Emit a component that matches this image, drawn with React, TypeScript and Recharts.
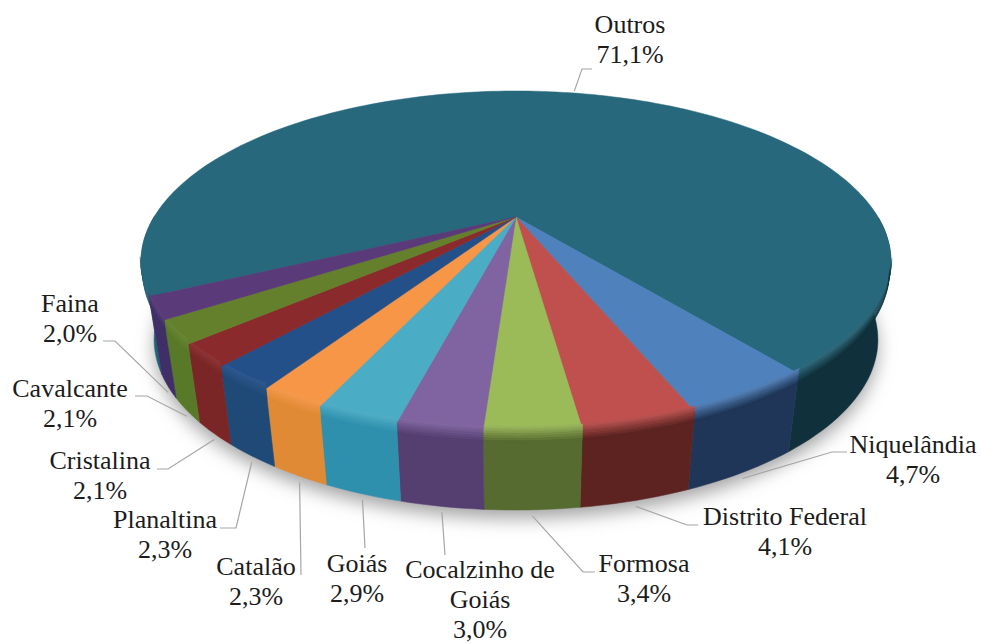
import React from 'react';
import { PieChart, Pie } from 'recharts';

const names = ['Outros', 'Niquelândia', 'Distrito Federal', 'Formosa', 'Cocalzinho de Goiás', 'Goiás', 'Catalão', 'Planaltina', 'Cristalina', 'Cavalcante', 'Faina'];
const shares = [71.1, 4.7, 4.1, 3.4, 3.0, 2.9, 2.3, 2.3, 2.1, 2.1, 2.0];
const topColors = ['#27687c', '#4f81bd', '#c0504d', '#9bbb59', '#8064a2', '#4bacc6', '#f79646', '#24508a', '#8a2a2c', '#64802c', '#5a3a78'];
const wallColors = ['#10303b', '#1f3658', '#5c2320', '#566b2f', '#553f71', '#2f90ad', '#e08a35', '#1f4a78', '#7a2526', '#587a28', '#3f2f66'];

// label layout, same order as names: text centre, first baseline, elbow of the leader, end of the leader at the text
const labelX = [630, 913, 785, 644, 480, 357, 256, 165, 100, 70, 70];
const labelY = [33, 453, 525, 572, 578, 572, 575, 528, 469, 397, 312];
const elbows = [[582, 69], [832, 452], [687, 525], [583, 572], null, null, null, [236, 528], [168, 469], [147, 396], [115, 341]];
const leaderEnds = [[592, 69], [847, 452], [698, 525], [595, 572], [445, 555], [365, 548], [301, 575], [220, 528], [157, 469], [135, 396], [103, 341]];
const nameLines: Record<string, string[]> = { 'Cocalzinho de Goiás': ['Cocalzinho de', 'Goiás'] };

const CX = 516;
const CY = 217;
const DEPTH = 78;
const chartData = names.map((name, i) => ({ name, value: shares[i] }));

// perspective view of the flat disc, angle in degrees as recharts gives it
const project = (cx: number, cy: number, deg: number, f = 0) => {
  // small correction so the front slices land where the 3D renderer put them
  const warped = deg + 1.3 * Math.cos((2 * (deg + 128) * Math.PI) / 180);
  const t = (warped * Math.PI) / 180;
  const u = Math.cos(t);
  const v = Math.sin(t);
  const den = 1 + 0.261 * v;
  const x = (362 * u) / den;
  const y = (-158.9 * v) / den;
  return { x: cx + x * (1 - 0.035 * f), y: cy + y + DEPTH * f };
};

const anglesBetween = (a0: number, a1: number) => {
  const n = Math.max(2, Math.ceil(Math.abs(a1 - a0) / 1.5));
  const list: number[] = [];
  for (let i = 0; i <= n; i++) list.push(a0 + ((a1 - a0) * i) / n);
  return list;
};

const toPath = (pts: { x: number; y: number }[]) => 'M' + pts.map((p) => `${p.x.toFixed(1)},${p.y.toFixed(1)}`).join('L') + 'Z';

const bandPath = (cx: number, cy: number, a0: number, a1: number, f0: number, f1: number) => {
  const angles = anglesBetween(a0, a1);
  const upper = angles.map((a) => project(cx, cy, a, f0));
  const lower = angles.slice().reverse().map((a) => project(cx, cy, a, f1));
  return toPath(upper.concat(lower));
};

const facePath = (cx: number, cy: number, a0: number, a1: number) =>
  toPath([{ x: cx, y: cy }, ...anglesBetween(a0, a1).map((a) => project(cx, cy, a))]);

const hexMix = (a: string, b: string, t: number) => {
  const ch = (h: string, i: number) => parseInt(h.slice(1 + i * 2, 3 + i * 2), 16);
  const out = [0, 1, 2].map((i) => Math.round(ch(a, i) * (1 - t) + ch(b, i) * t).toString(16).padStart(2, '0'));
  return '#' + out.join('');
};

// the big slice wraps round the back, so only its two ends face the viewer
const frontRanges = (start: number, end: number, past: number): [number, number][] => {
  if (start > 180 && end < 0) return [[start, 180 + past], [-past, end]];
  return [[start, end]];
};

const BEVEL = [-0.07, -0.04, -0.01, 0.02, 0.05, 0.08, 0.11, 0.14];

const SliceShape = (props: any) => {
  const { cx, cy, startAngle, endAngle, index } = props;
  const top = topColors[index];
  const wall = wallColors[index];
  return (
    <g>
      {index === 0 && (
        <path
          d={toPath(anglesBetween(0, 360).map((a) => project(cx, cy + 5, a, 1.04)))}
          fill="#8c8c8c"
          fillOpacity={0.8}
          filter="url(#soft)"
        />
      )}
      {frontRanges(startAngle, endAngle, 0).map(([a, b], i) => {
        const fill = index === 0 && a > 90 ? '#1f6478' : wall;
        return <path key={i} d={bandPath(cx, cy, a, b, 0, 1)} fill={fill} stroke={fill} strokeWidth={0.5} />;
      })}
      <path d={facePath(cx, cy, startAngle, endAngle)} fill={top} stroke={top} strokeWidth={0.5} />
      {frontRanges(startAngle, endAngle, 15).map(([a, b], i) => {
        const base = index === 0 && a > 90 ? '#1f6478' : wall;
        return BEVEL.slice(0, -1).map((f, k) => {
          const c = hexMix(hexMix(top, '#ffffff', 0.06), base, (k + 1) / (BEVEL.length - 1));
          return <path key={`${i}-${k}`} d={bandPath(cx, cy, a, b, f, BEVEL[k + 1])} fill={c} stroke={c} strokeWidth={0.4} />;
        });
      })}
    </g>
  );
};

const SliceLabel = (props: any) => {
  const { cx, cy, midAngle, index } = props;
  const onTop = index === 0;
  const rim = project(cx, cy, midAngle, onTop ? 0 : 1);
  const start = { x: rim.x, y: rim.y + (onTop ? -2 : 6) };
  const pts = [start, elbows[index] && { x: elbows[index]![0], y: elbows[index]![1] }, { x: leaderEnds[index][0], y: leaderEnds[index][1] }].filter(Boolean) as { x: number; y: number }[];
  const name = names[index];
  const lines = [...(nameLines[name] || [name]), shares[index].toFixed(1).replace('.', ',') + '%'];
  return (
    <g>
      <polyline points={pts.map((p) => `${p.x.toFixed(1)},${p.y.toFixed(1)}`).join(' ')} fill="none" stroke="#a6a6a6" strokeWidth={1.2} />
      <text x={labelX[index]} y={labelY[index]} textAnchor="middle" fontFamily="'Liberation Serif', serif" fontSize={26} fill="#1c1c1c">
        {lines.map((line, i) => (
          <tspan key={i} x={labelX[index]} dy={i === 0 ? 0 : 30}>
            {line}
          </tspan>
        ))}
      </text>
    </g>
  );
};

export default function App() {
  return (
    <div style={{ position: 'absolute', left: 0, top: 0, width: 982, height: 644, background: '#fff' }}>
      <PieChart width={982} height={644} margin={{ top: 0, right: 0, bottom: 0, left: 0 }}>
        <defs>
          <filter id="soft" x="-10%" y="-20%" width="120%" height="140%">
            <feGaussianBlur stdDeviation="9" />
          </filter>
        </defs>
        <Pie
          data={chartData}
          dataKey="value"
          nameKey="name"
          cx={CX}
          cy={CY}
          outerRadius={150}
          startAngle={205.5}
          endAngle={-154.5}
          stroke="none"
          isAnimationActive={false}
          shape={SliceShape}
          label={SliceLabel}
          labelLine={false}
        />
      </PieChart>
    </div>
  );
}
